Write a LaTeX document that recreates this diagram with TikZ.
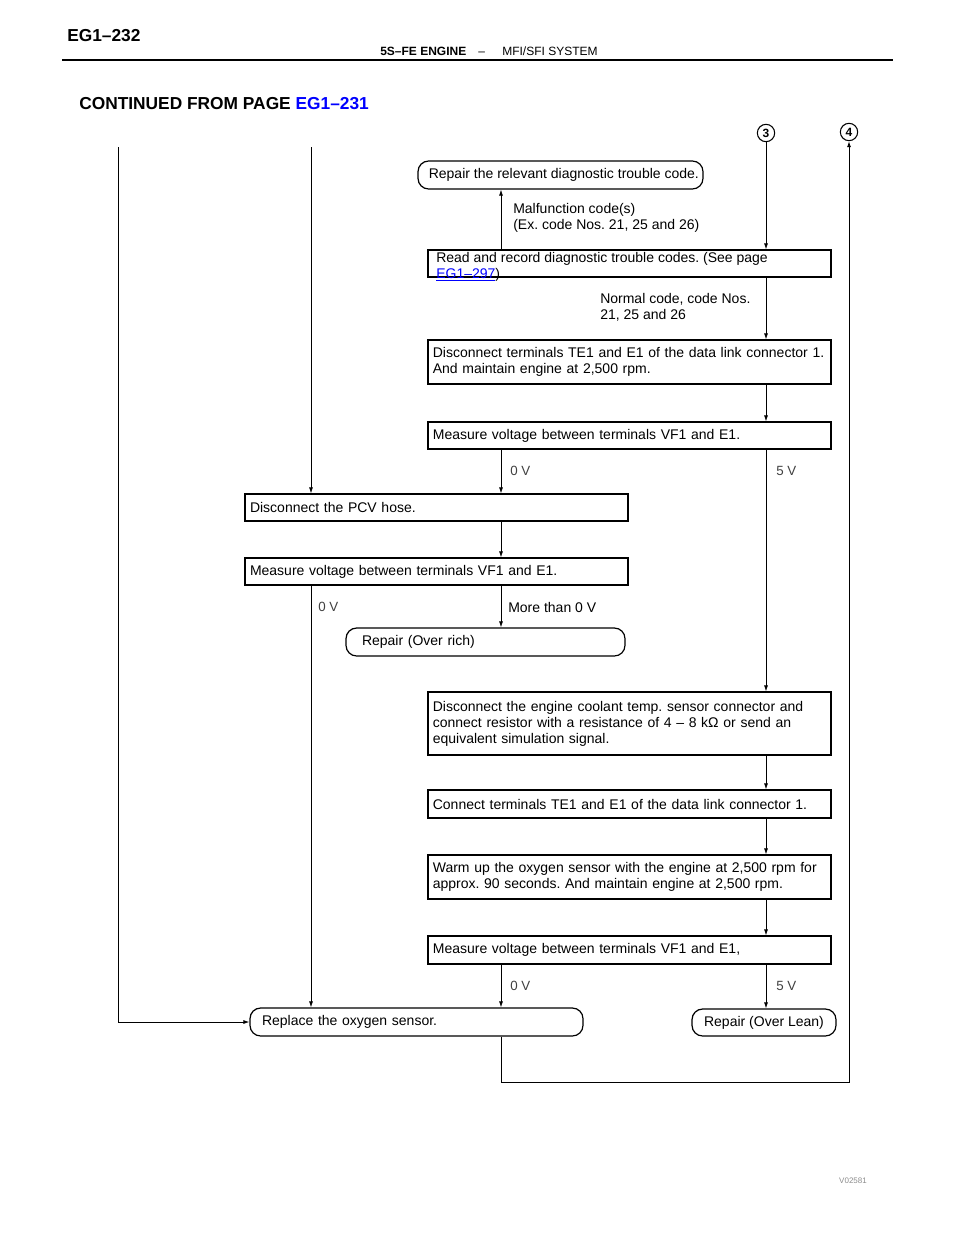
\documentclass[tikz,border=0pt]{standalone}
\usepackage{fontspec}
\setmainfont{Liberation Sans}
\usetikzlibrary{arrows.meta}
\frenchspacing

\begin{document}
\begin{tikzpicture}[
    x=0.75pt, y=-0.75pt,
    font=\fontsize{10.5}{12}\selectfont,
    stepbox/.style={draw, line width=0.9pt, rectangle, inner ysep=1pt, align=left},
    endbox/.style={draw, line width=0.9pt, rounded corners=8pt, inner ysep=1pt, minimum height=21pt},
    lbl/.style={inner sep=0pt, anchor=west, align=left},
    vlt/.style={inner sep=0pt, anchor=west, font=\fontsize{10}{10}\selectfont, text=black!75},
    num/.style={circle, draw, line width=0.8pt, inner sep=0pt, minimum size=13pt, font=\fontsize{9}{9}\selectfont\bfseries},
    arr/.style={-{Latex[length=4.5pt,width=3pt]}, line width=0.6pt}
  ]
  \useasboundingbox (0,0) rectangle (960,1242);

  \node[lbl, font=\fontsize{13}{13}\selectfont\bfseries] (page) at (67,36) {EG1–232};
  \node[lbl, font=\fontsize{9}{9}\selectfont] (head) at (380,51) {\textbf{5S–FE ENGINE}\hspace{9pt}–\hspace{13pt}MFI/SFI SYSTEM};
  \draw[line width=1.5pt] (62,60) -- (893,60);
  \node[lbl, font=\fontsize{13}{13}\selectfont\bfseries] (cont) at (79,104) {CONTINUED FROM PAGE \textcolor{blue}{EG1–231}};

  \node[num] (c3) at (766,133) {3};
  \node[num] (c4) at (849,132) {4};
  \coordinate (xa) at (118,147);
  \coordinate (xb) at (311,147);
  \coordinate (xc) at (501,0);
  \coordinate (xd) at (766,0);
  \coordinate (bot) at (849,1082);

  \node[endbox, minimum width=213.75pt, inner xsep=1pt] (rel) at (560.5,175) {\hspace{5pt}Repair the relevant diagnostic trouble code.};
  \node[stepbox, minimum width=302.25pt, minimum height=20.25pt] (read) at (629.5,263.5) {};
  \node[lbl] (readtxt) at (436,266.5) {Read and record diagnostic trouble codes. (See page\\\textcolor{blue}{\underline{EG1–297}})};
  \node[stepbox, text width=295pt, inner xsep=3.6pt, minimum height=33pt] (te1) at (629.5,362)
    {Disconnect terminals TE1 and E1 of the data link connector 1.\\And maintain engine at 2,500 rpm.};
  \node[stepbox, text width=295pt, inner xsep=3.6pt, minimum height=20.25pt] (meas1) at (629.5,435.5)
    {Measure voltage between terminals VF1 and E1.};
  \node[stepbox, text width=279.75pt, inner xsep=3.75pt, minimum height=20.25pt] (pcv) at (436.5,507.5)
    {Disconnect the PCV hose.};
  \node[stepbox, text width=279.75pt, inner xsep=3.75pt, minimum height=20.25pt] (meas2) at (436.5,571.5)
    {Measure voltage between terminals VF1 and E1.};
  \node[endbox, text width=185.25pt, inner xsep=12pt, align=left] (rich) at (485.5,642) {Repair (Over rich)};
  \node[stepbox, text width=295pt, inner xsep=3.6pt, minimum height=47.25pt] (cool) at (629.5,723.5)
    {Disconnect the engine coolant temp. sensor connector and\\connect resistor with a resistance of 4 – 8 kΩ or send an\\equivalent simulation signal.};
  \node[stepbox, text width=295pt, inner xsep=3.6pt, minimum height=21pt] (conn) at (629.5,804)
    {Connect terminals TE1 and E1 of the data link connector 1.};
  \node[stepbox, text width=295pt, inner xsep=3.6pt, minimum height=33pt] (warm) at (629.5,877)
    {Warm up the oxygen sensor with the engine at 2,500 rpm for\\approx. 90 seconds. And maintain engine at 2,500 rpm.};
  \node[stepbox, text width=295pt, inner xsep=3.6pt, minimum height=21pt] (meas3) at (629.5,950)
    {Measure voltage between terminals VF1 and E1,};
  \node[endbox, text width=231.75pt, inner xsep=9pt, align=left] (repl) at (416.5,1022) {Replace the oxygen sensor.};
  \node[endbox, minimum width=108pt, inner xsep=3pt, minimum height=20.25pt] (lean) at (764,1022.5) {Repair (Over Lean)};

  \node[lbl] (malf) at (513,218) {Malfunction code(s)\\(Ex. code Nos. 21, 25 and 26)};
  \node[lbl] (norm) at (600,307) {Normal code, code Nos.\\21, 25 and 26};
  \node[vlt] (v1) at (510,471) {0 V};
  \node[vlt] (v2) at (776,471) {5 V};
  \node[vlt] (v3) at (318,607) {0 V};
  \node[lbl] (more) at (508,607) {More than 0 V};
  \node[vlt] (v4) at (510,986) {0 V};
  \node[vlt] (v5) at (776,986) {5 V};
  \node[inner sep=0pt, font=\fontsize{6}{6}\selectfont, text=black!45] (fig) at (853,1181) {V02581};

  \draw[arr] (read.north -| xc) -- (rel.south -| xc);
  \draw[arr] (c3) -- (read.north -| c3);
  \draw[arr] (read.south -| xd) -- (te1.north -| xd);
  \draw[arr] (te1.south -| xd) -- (meas1.north -| xd);
  \draw[arr] (meas1.south -| xc) -- (pcv.north -| xc);
  \draw[arr] (meas1.south -| xd) -- (cool.north -| xd);
  \draw[arr] (xb) -- (pcv.north -| xb);
  \draw[arr] (pcv.south -| xc) -- (meas2.north -| xc);
  \draw[arr] (meas2.south -| xc) -- (rich.north -| xc);
  \draw[arr] (meas2.south -| xb) -- (repl.north -| xb);
  \draw[arr] (cool.south -| xd) -- (conn.north -| xd);
  \draw[arr] (conn.south -| xd) -- (warm.north -| xd);
  \draw[arr] (warm.south -| xd) -- (meas3.north -| xd);
  \draw[arr] (meas3.south -| xc) -- (repl.north -| xc);
  \draw[arr] (meas3.south -| xd) -- (lean.north -| xd);
  \draw[arr] (xa) |- (repl.west);
  \draw[arr] (repl.south -| xc) |- (bot) -- (c4);
\end{tikzpicture}
\end{document}
